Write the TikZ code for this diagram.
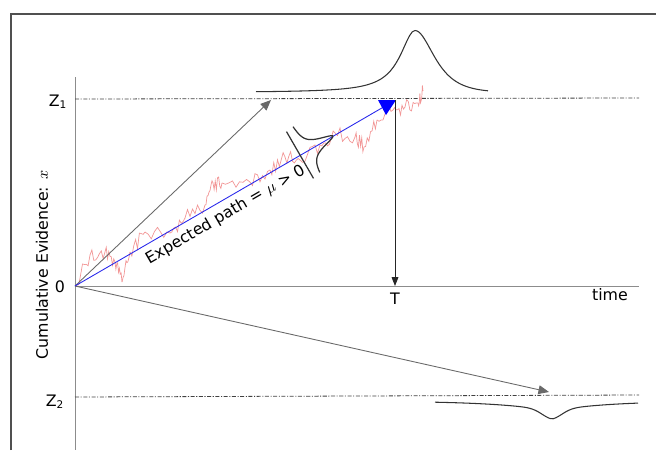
\documentclass[tikz,border=0pt]{standalone}
\usepackage{fontspec}
\setmainfont{DejaVu Sans}
\usetikzlibrary{arrows.meta}

\definecolor{framegray}{RGB}{80,80,80}
\definecolor{axisgray}{RGB}{140,140,140}
\definecolor{arrowgray}{RGB}{105,105,105}
\definecolor{walkred}{RGB}{242,150,150}
\definecolor{driftblue}{RGB}{40,40,235}

\begin{document}
\begin{tikzpicture}[
  x=0.02cm, y=-0.02cm,
  font=\fontsize{9}{11}\selectfont,
  frameline/.style={draw=framegray, line width=0.7pt},
  axisline/.style={draw=axisgray, line width=0.5pt},
  boundline/.style={draw=black!75, line width=0.45pt, dash pattern=on 2.3pt off 0.9pt on 0.6pt off 0.9pt},
  driftarrow/.style={draw=arrowgray, line width=0.5pt, -{Triangle[length=6pt, width=5pt]}},
  walk/.style={draw=walkred, line width=0.4pt},
  density/.style={draw=black!80, line width=0.6pt},
  lbl/.style={inner sep=1pt}
]
\useasboundingbox (0,0) rectangle (656,450);

% frame
\draw[frameline] (11,450) -- (11,14) -- (656,14);

% axes
\coordinate (O) at (75,286);
\coordinate (ytop) at (75,77);
\coordinate (ybot) at (75,450);
\coordinate (xend) at (639,286);
\draw[axisline] (ytop) -- (ybot);
\draw[axisline] (O) -- (xend);

% bounds
\coordinate (z1l) at (75,99);
\coordinate (z1r) at (639,98);
\coordinate (z2l) at (75,397);
\coordinate (z2r) at (639,395);
\draw[boundline] (z1l) -- (z1r);
\draw[boundline] (z2l) -- (z2r);

% labels
\node[lbl] (z1lbl) at (58,102) {Z\textsubscript{1}};
\node[lbl] (z2lbl) at (55,402) {Z\textsubscript{2}};
\node[lbl] (zero) at (60,287) {0};
\node[lbl] (tlbl) at (395,299) {T};
\node[lbl] (timelbl) at (610,295) {time};
\node[lbl, rotate=90] (ylbl) at (42,265) {Cumulative Evidence: $x$};

% noisy path
\pgfmathsetseed{12}
\foreach \xa/\ya/\xb/\yb in {75/286/90/255, 90/255/105/252, 105/252/115/262, 115/262/122/282,
  122/282/130/252, 130/252/145/232, 145/232/170/233, 170/233/185/218, 185/218/205/205,
  205/205/213/183, 213/183/222/183, 222/183/250/182, 250/182/270/170, 270/170/285/157,
  285/157/300/160, 300/160/320/145, 320/145/335/133, 335/133/355/137, 355/137/364/147,
  364/147/377/120, 377/120/393/110, 393/110/405/107, 405/107/418/103, 418/103/423/91}{
  \draw[walk] (\xa,\ya) \foreach \k in {1,...,7}{ -- ({\xa+(\xb-\xa)*\k/8}, {\ya+(\yb-\ya)*\k/8+7*rand}) } -- (\xb,\yb);
}

% drift arrows
\coordinate (upend) at (271,100);
\coordinate (downend) at (549,392);
\draw[driftarrow] (O) -- (upend);
\draw[driftarrow] (O) -- (downend);

% expected path
\coordinate (tip) at (387,105);
\draw[draw=driftblue, line width=0.5pt] (O) -- (tip)
  node[pos=0.46, sloped, below, text=black] {Expected path = $\mu$ > 0};
\fill[blue] (378,100) -- (396,100) -- (386,115) -- cycle;

% hitting time
\coordinate (Ttop) at (395,100);
\coordinate (Tbot) at (395,286);
\draw[draw=black!85, line width=0.5pt, -{Triangle[length=5pt, width=3.8pt]}] (Ttop) -- (Tbot);

% densities
\draw[density] plot[domain=256:415, samples=60] (\x, {92.5-62/(1+((\x-415)/18)*((\x-415)/18))});
\draw[density] plot[domain=415:488, samples=40] (\x, {92.5-62/cosh((\x-415)/17)});
\draw[density] plot[domain=435:638, samples=80] (\x, {401+10*exp(-abs(\x-552)/55)+8*exp(-((\x-552)/14)*((\x-552)/14))});
\begin{scope}[shift={(300,155)}, rotate=30]
  \draw[density, line width=0.7pt] (0,-27) -- (0,27);
  \draw[density, line width=0.7pt] plot[domain=-28:25, samples=60] ({7+31/(1+(\x/5.5)*(\x/5.5))}, {\x});
\end{scope}
\end{tikzpicture}
\end{document}
